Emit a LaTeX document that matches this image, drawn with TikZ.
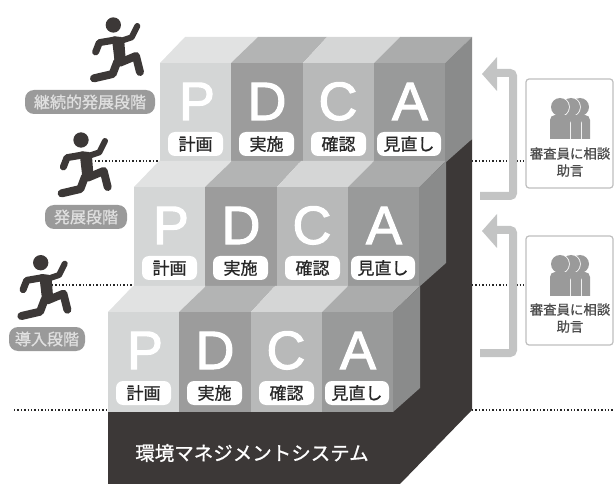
\documentclass[tikz,border=0pt]{standalone}
\usepackage{fontspec}
\setmainfont{Noto Sans CJK JP}
\newfontfamily\latinf[FakeBold=2]{Liberation Sans}
\newfontfamily\semif[FakeBold=0.9]{Noto Sans CJK JP}
\definecolor{darkbase}{HTML}{3C3837}
\definecolor{pfront}{HTML}{D4D6D6}\definecolor{ptop}{HTML}{E1E2E2}
\definecolor{dfront}{HTML}{9C9C9C}\definecolor{dtop}{HTML}{B3B4B4}
\definecolor{cfront}{HTML}{B8B9B9}\definecolor{ctop}{HTML}{D5D6D6}
\definecolor{afront}{HTML}{999A9A}\definecolor{atop}{HTML}{ABACAC}
\definecolor{sideg}{HTML}{8A8B8B}
\definecolor{arrowg}{HTML}{C3C4C4}
\definecolor{labelg}{HTML}{9A9A9A}
\tikzset{
  letter/.style={anchor=base,text=white,font=\latinf\fontsize{54}{54}\selectfont,inner sep=0pt},
  tag/.style={fill=white,rounded corners=7pt,minimum height=24pt,inner sep=0pt,text=black!85,
    font=\semif\fontsize{17}{17}\selectfont},
  stagelabel/.style={fill=labelg,rounded corners=9pt,minimum height=24pt,inner sep=0pt,
    text=white!88!black,font=\semif\fontsize{16}{16}\selectfont},
  advice/.style={text=black!70,font=\semif\fontsize{13.4}{17}\selectfont,align=center,inner sep=0pt},
  advicebox/.style={draw=black!25,line width=1.2pt,fill=white,rounded corners=3pt},
  level/.style={dash pattern=on 1.3pt off 2.1pt,line width=1.3pt,black!85},
  flow/.style={draw=arrowg,line width=8pt,rounded corners=3pt},
  limb/.style={draw=darkbase,line cap=round,line join=round},
}
% tier: x, y of front top-left corner, name prefix
\newcommand{\tierblock}[3]{%
\begin{scope}[shift={(#1,#2)}]
  \fill[ptop] (0,0)--(25,-26)--(98,-26)--(71,0)--cycle;
  \fill[dtop] (71,0)--(98,-26)--(167,-26)--(143,0)--cycle;
  \fill[ctop] (143,0)--(167,-26)--(240,-26)--(214,0)--cycle;
  \fill[atop] (214,0)--(240,-26)--(312,-26)--(285,0)--cycle;
  \fill[sideg] (285,0)--(312,-26)--(312,76)--(285,100)--cycle;
  \fill[pfront] (0,0) rectangle (71,100);
  \fill[dfront] (71,0) rectangle (143,100);
  \fill[cfront] (143,0) rectangle (214,100);
  \fill[afront] (214,0) rectangle (285,100);
  \node[letter] (#3P) at (37,57) {P};
  \node[letter] (#3D) at (107,57) {D};
  \node[letter] (#3C) at (178,57) {C};
  \node[letter] (#3A) at (250,57) {A};
  \node[tag,minimum width=55pt] (#3plan) at (35.5,81) {計画};
  \node[tag,minimum width=55pt] (#3do) at (106.5,81) {実施};
  \node[tag,minimum width=55pt] (#3check) at (178.5,81) {確認};
  \node[tag,minimum width=64pt] (#3act) at (249,81) {見直し};
\end{scope}}
% runner: shift relative to top runner
\newcommand{\runner}[2]{%
\begin{scope}[shift={(#1,#2)},x=0.3333pt,y=-0.3333pt]
  \fill[darkbase] (340,75) circle (23);
  \fill[darkbase,rounded corners=3pt] (335,108)--(372,112)--(378,190)--(345,195)--cycle;
  \draw[limb,line width=7pt] (345,120)--(298,128)--(287,156);
  \draw[limb,line width=6pt] (365,122)--(395,112)--(412,78);
  \draw[limb,line width=8pt] (352,185)--(338,222)--(282,235);
  \draw[limb,line width=8pt] (360,188)--(408,168)--(420,216);
\end{scope}}
% people icon: centre x, top y of head
\newcommand{\persona}[2]{%
  \draw[white,line width=1.6pt] (#1,#2+9) circle (9);
  \draw[white,line width=1.6pt,rounded corners=5pt] (#1-10,#2+41)--(#1-10,#2+20)--(#1+10,#2+20)--(#1+10,#2+41);
  \fill[labelg] (#1,#2+9) circle (9);
  \fill[labelg] (#1-10,#2+41) [rounded corners=5pt] --(#1-10,#2+17)--(#1+10,#2+17) [sharp corners] --(#1+10,#2+41)--cycle;}
\newcommand{\people}[1]{%
  \persona{580}{#1}\persona{571}{#1}\persona{560}{#1}}
\begin{document}
\begin{tikzpicture}[x=1pt,y=-1pt]
\useasboundingbox (0,0) rectangle (614,484);
% dotted levels
\coordinate (l1a) at (95,161); \coordinate (l1b) at (160,161);
\coordinate (r1a) at (472,161); \coordinate (r1b) at (526,161);
\coordinate (l2a) at (52,285); \coordinate (l2b) at (134,285);
\coordinate (r2a) at (472,285); \coordinate (r2b) at (526,285);
\coordinate (l3a) at (14,410); \coordinate (l3b) at (108,410);
\coordinate (r3a) at (472,410); \coordinate (r3b) at (614,410);
\draw[level] (l1a)--(l1b); \draw[level] (r1a)--(r1b);
\draw[level] (l2a)--(l2b); \draw[level] (r2a)--(r2b);
\draw[level] (l3a)--(l3b); \draw[level] (r3a)--(r3b);
% base
\fill[darkbase] (380,412)--(380,280)--(436,165)--(472,139)--(472,410)--(400,484)--(380,484)--cycle;
\fill[darkbase] (108,412) rectangle (393,484);
\node[text=white,font=\semif\fontsize{19.5}{20}\selectfont,inner sep=0pt] (base) at (252,453) {環境マネジメントシステム};
% tiers
\tierblock{160}{63}{a}
\tierblock{134}{187}{b}
\tierblock{108}{312}{c}
% runners
\runner{0}{0}
\runner{-32.3}{115}
\runner{-72.6}{237.7}
% stage labels
\node[stagelabel,minimum width=130pt] (s1) at (90,102) {継続的発展段階};
\node[stagelabel,minimum width=82pt] (s2) at (86,217) {発展段階};
\node[stagelabel,minimum width=76pt] (s3) at (47,339) {導入段階};
% advice boxes
\foreach \n/\t in {u/79,v/236}{
  \draw[advicebox] (526,\t) rectangle (613,\t+109);
  \pgfmathsetmacro{\pt}{\t+19}
  \people{\pt}
}
\node[advice] (adv1) at (570,162) {審査員に相談\\助言};
\node[advice] (adv2) at (570,318) {審査員に相談\\助言};
% arrows
\draw[flow] (480,196)--(513,196)--(513,73)--(492,73);
\fill[arrowg] (482,74)--(497,57)--(497,91)--cycle;
\draw[flow] (480,353)--(513,353)--(513,230)--(492,230);
\fill[arrowg] (482,231)--(497,214)--(497,248)--cycle;
\end{tikzpicture}
\end{document}
